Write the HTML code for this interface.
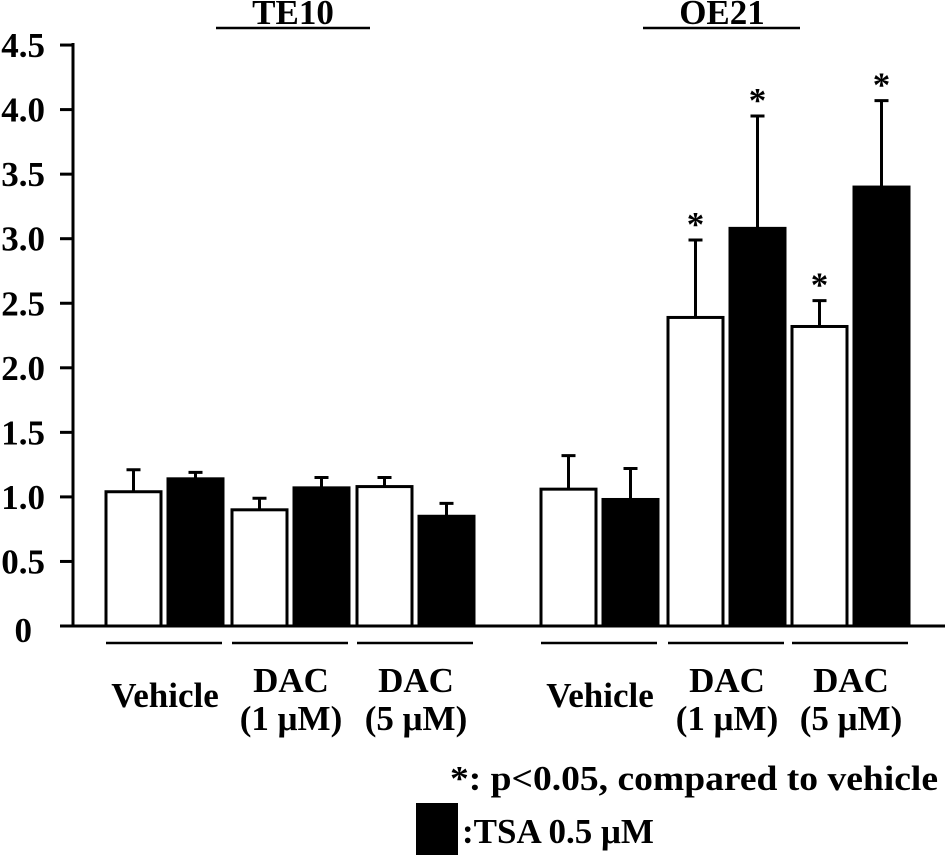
<!DOCTYPE html>
<html><head><meta charset="utf-8"><style>
body{margin:0;background:#fff;}
svg{display:block;font-family:"Liberation Serif",serif;font-weight:bold;}
</style></head><body>
<svg id="chart" width="945" height="858" viewBox="0 0 945 858" xmlns="http://www.w3.org/2000/svg"></svg>
<script>
const yTicks=[0,0.5,1.0,1.5,2.0,2.5,3.0,3.5,4.0,4.5];
const yTickLabels=["0","0.5","1.0","1.5","2.0","2.5","3.0","3.5","4.0","4.5"];
const groups=["TE10","OE21"];
const categories=["Vehicle","DAC (1 μM)","DAC (5 μM)"];
const vehicleValues=[1.04,0.90,1.08,1.06,2.39,2.32];
const vehicleErrors=[0.17,0.09,0.07,0.26,0.60,0.20];
const tsaValues=[1.14,1.07,0.85,0.98,3.08,3.40];
const tsaErrors=[0.05,0.08,0.10,0.24,0.87,0.67];
const significantVehicle=[false,false,false,false,true,true];
const significantTsa=[false,false,false,false,true,true];

const svg=document.getElementById('chart');
const NS='http://www.w3.org/2000/svg';
function el(t,a,p){const e=document.createElementNS(NS,t);for(const k in a)e.setAttribute(k,a[k]);(p||svg).appendChild(e);return e;}
const y0=626,pxPerUnit=129.1,FS=35;
function yScale(v){return y0-v*pxPerUnit;}
const pairStart=[106,232,357,541,668,792];
const barW=55,gap=7;
function xBar(i,s){return pairStart[i]+s*(barW+gap);}

let a=el('line',{x1:73,y1:43,x2:73,y2:y0,stroke:'#000','stroke-width':3});

a=el('line',{x1:60,y1:y0,x2:945,y2:y0,stroke:'#000','stroke-width':3});

yTicks.forEach((v,i)=>{
 let t=el('line',{x1:60,y1:yScale(v),x2:73,y2:yScale(v),stroke:'#000','stroke-width':3});
 
 let l=el('text',{x:v===0?32:45,y:v===0?642:yScale(v)+12,'text-anchor':'end','font-size':FS});
 l.textContent=yTickLabels[i];
 
});
function star(x,y){let s=el('text',{x:x,y:y,'text-anchor':'middle','font-size':FS});s.textContent='*';
 }
for(let i=0;i<6;i++){
 [[vehicleValues,vehicleErrors,'#fff',significantVehicle,'bar-vehicle'],[tsaValues,tsaErrors,'#000',significantTsa,'bar-tsa']].forEach((d,s)=>{
  const x=xBar(i,s),v=d[0][i],e=d[1][i],cx=x+barW/2;
  let b=el('rect',{x:x,y:yScale(v),width:barW,height:y0-yScale(v),fill:d[2],stroke:'#000','stroke-width':3});
  
  let eb=el('path',{d:`M${cx},${yScale(v)}V${yScale(v+e)}M${cx-7},${yScale(v+e)}H${cx+7}`,stroke:'#000','stroke-width':3,fill:'none'});
  
  if(d[3][i])star(cx,yScale(v+e)-4);
 });
 let u=el('line',{x1:pairStart[i],y1:643,x2:pairStart[i]+116,y2:643,stroke:'#000','stroke-width':2.5});
 
 const cx=pairStart[i]+59,c=categories[i%3];
 if(c==='Vehicle'){let t=el('text',{x:cx,y:707,'text-anchor':'middle','font-size':FS});t.textContent=c;
  }
 else{const parts=c.split(' ');let t=el('text',{x:cx,y:692,'text-anchor':'middle','font-size':FS});t.textContent=parts[0];
  
  let t2=el('text',{x:cx,y:730,'text-anchor':'middle','font-size':FS});t2.textContent=parts[1]+' '+parts[2];
  }
}
[[293,216,370],[722,643,800]].forEach((g,i)=>{
 let t=el('text',{x:g[0],y:24,'text-anchor':'middle','font-size':FS});t.textContent=groups[i];
 
 let l=el('line',{x1:g[1],y1:28,x2:g[2],y2:28,stroke:'#000','stroke-width':2.5});
 
});
let n=el('text',{x:450,y:790,'font-size':FS,textLength:488,lengthAdjust:'spacingAndGlyphs'});n.textContent='*: p<0.05, compared to vehicle';

let sw=el('rect',{x:416,y:803,width:42,height:52,fill:'#000'});

let lt=el('text',{x:462,y:843,'font-size':FS});lt.textContent=':TSA 0.5 μM';

</script>
</body></html>
